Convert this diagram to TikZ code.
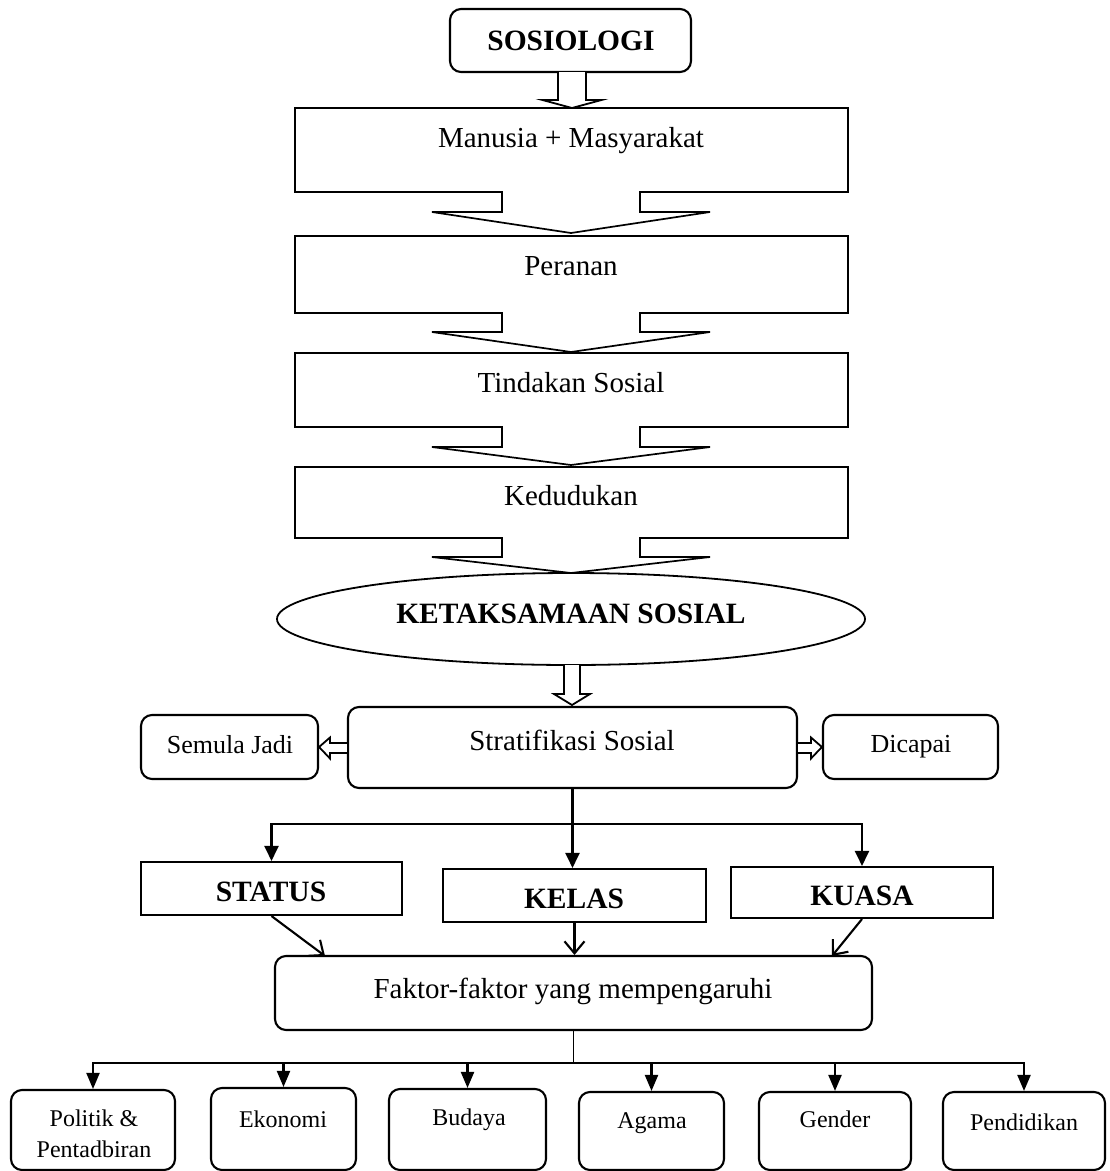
\documentclass[tikz,border=0pt]{standalone}
\usepackage{fontspec}
\setmainfont{Liberation Serif}
\usetikzlibrary{shapes.geometric,arrows.meta,fit}
\newcommand{\dncallout}[4]{%
  \draw[callout] (295,#1) -- (848,#1) -- (848,#2) -- (640,#2) -- (640,#3) -- (710,#3)
    -- (571,#4) -- (432,#3) -- (502,#3) -- (502,#2) -- (295,#2) -- cycle;}
\newcommand{\hollowdown}[6]{% cx, ytop, yhead, ytip, shaft half, head half
  \draw[hollow] ({#1-#5},#2) -- ({#1-#5},#3) -- ({#1-#6},#3) -- (#1,#4)
    -- ({#1+#6},#3) -- ({#1+#5},#3) -- ({#1+#5},#2);}
\begin{document}
\begin{tikzpicture}[x=1pt,y=-1pt,
  box/.style={draw, line width=2.1pt, inner sep=0pt},
  rbox/.style={box, rounded corners=11pt},
  callout/.style={draw, line width=1.7pt, line join=miter},
  hollow/.style={draw, line width=1.8pt, fill=white, line join=miter},
  conn/.style={line width=2.1pt},
  farrow/.style={conn, -{Triangle[length=15pt,width=14pt]}},
  farrowb/.style={conn, -{Triangle[length=16pt,width=13pt]}},
  barrow/.style={conn, -{Straight Barb[length=12pt,width=20pt,line width=2.1pt]}},
  big/.style={font=\fontsize{29}{34}\selectfont, anchor=base, inner sep=0pt},
  bigb/.style={big, font=\fontsize{29.5}{34}\selectfont\bfseries},
  mid/.style={font=\fontsize{26}{30}\selectfont, anchor=base, inner sep=0pt},
  small/.style={font=\fontsize{24}{31}\selectfont, anchor=base, inner sep=0pt},
]
\useasboundingbox[fill=white] (0,0) rectangle (1110,1171);

% SOSIOLOGI
\node[rbox, fit={(450,9) (691,72)}] (sos) {};
\node[bigb] (tsos) at (571,50) {SOSIOLOGI};
\hollowdown{572}{72}{100}{108}{14}{29.5}

% callout boxes
\node[inner sep=0pt, fit={(295,108) (848,192)}] (manusia) {};
\dncallout{108}{192}{212}{233}
\node[big] (tmanusia) at (571,147) {Manusia + Masyarakat};

\node[inner sep=0pt, fit={(295,236) (848,313)}] (peranan) {};
\dncallout{236}{313}{332}{352}
\node[big] (tperanan) at (571,275) {Peranan};

\node[inner sep=0pt, fit={(295,353) (848,427)}] (tindakan) {};
\dncallout{353}{427}{447}{465}
\node[big] (ttindakan) at (571,392) {Tindakan Sosial};

\node[inner sep=0pt, fit={(295,467) (848,538)}] (kedudukan) {};
\dncallout{467}{538}{557}{573}
\node[big] (tkedudukan) at (571,505) {Kedudukan};

% ellipse
\node[draw, ellipse, line width=1.8pt, minimum width=588pt, minimum height=92pt, inner sep=0pt] (ketak) at (571,619) {};
\node[bigb] (tketak) at (571,623) {KETAKSAMAAN SOSIAL};
\hollowdown{572}{665}{694}{705}{8}{18}

% Stratifikasi
\node[rbox, fit={(348,707) (797,788)}] (strat) {};
\node[big] (tstrat) at (572,750) {Stratifikasi Sosial};
\node[rbox, fit={(141,715) (318,779)}] (semula) {};
\node[mid] (tsemula) at (230,753) {Semula Jadi};
\node[rbox, fit={(823,715) (998,779)}] (dicapai) {};
\node[mid] (tdicapai) at (911,752) {Dicapai};
\draw[hollow] (strat.west |- 0,743) -- (330,743) -- (330,737.5) -- (semula.east) -- (330,758.5) -- (330,753) -- (strat.west |- 0,753);
\draw[hollow] (strat.east |- 0,743) -- (811,743) -- (811,737.5) -- (dicapai.west) -- (811,758.5) -- (811,753) -- (strat.east |- 0,753);

% STATUS KELAS KUASA
\node[box, fit={(141,862) (402,915)}] (status) {};
\node[bigb] (tstatus) at (271,901) {STATUS};
\node[box, fit={(443,869) (706,922)}] (kelas) {};
\node[bigb] (tkelas) at (574,908) {KELAS};
\node[box, fit={(731,867) (993,918)}] (kuasa) {};
\node[bigb] (tkuasa) at (862,905) {KUASA};

\coordinate (hl) at (271.5,824);
\coordinate (hr) at (862,824);
\draw[farrow] (strat.south) -- (strat.south |- kelas.north);
\draw[farrow] (strat.south |- hl) -- (hl) -- (status.north);
\draw[farrow] (strat.south |- hr) -- (hr) -- (hr |- kuasa.north);

% Faktor
\node[rbox, fit={(275,956) (872,1030)}] (faktor) {};
\node[big] (tfaktor) at (573,998) {Faktor-faktor yang mempengaruhi};
\coordinate (fs) at (325,956);
\coordinate (fk) at (832,956);
\draw[barrow] (status.south) -- (fs);
\draw[barrow] (kelas.south) -- (kelas.south |- faktor.north);
\draw[barrow] (kuasa.south) -- (fk);

% bottom boxes
\node[rbox, fit={(11,1090) (175,1170)}] (politik) {};
\node[small, anchor=north, align=center] (tpolitik) at (94,1110) {Politik \&\\Pentadbiran};
\node[rbox, fit={(211,1088) (356,1170)}] (ekonomi) {};
\node[small] (tekonomi) at (283,1127) {Ekonomi};
\node[rbox, fit={(389,1089) (546,1170)}] (budaya) {};
\node[small] (tbudaya) at (469,1125) {Budaya};
\node[rbox, fit={(579,1092) (724,1170)}] (agama) {};
\node[small] (tagama) at (652,1128) {Agama};
\node[rbox, fit={(759,1092) (911,1170)}] (gender) {};
\node[small] (tgender) at (835,1127) {Gender};
\node[rbox, fit={(943,1092) (1105,1170)}] (pendidikan) {};
\node[small] (tpendidikan) at (1024,1130) {Pendidikan};

\coordinate (bl) at (94,1063);
\draw[line width=1.3pt] (faktor.south) -- (faktor.south |- bl);
\draw[farrowb] (faktor.south |- bl) -- (politik.north |- bl) -- (politik.north);
\draw[farrowb] (faktor.south |- bl) -- (pendidikan.north |- bl) -- (pendidikan.north);
\draw[farrowb] (ekonomi.north |- bl) -- (ekonomi.north);
\draw[farrowb] (budaya.north |- bl) -- (budaya.north);
\draw[farrowb] (agama.north |- bl) -- (agama.north);
\draw[farrowb] (gender.north |- bl) -- (gender.north);
\end{tikzpicture}
\end{document}
